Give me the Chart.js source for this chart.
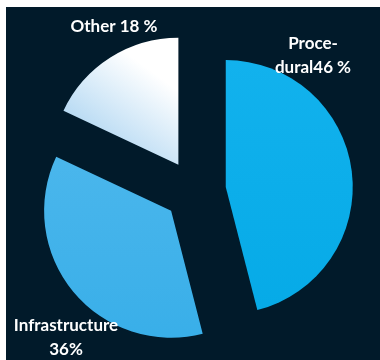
<!DOCTYPE html>
<html>
<head>
<meta charset="utf-8">
<script src="https://cdn.jsdelivr.net/npm/chart.js@4"></script>
<style>
  html, body { margin: 0; padding: 0; background: #ffffff; }
  #wrap { position: absolute; left: 6px; top: 7px; width: 374px; height: 353px; background: #011a2a; }
</style>
</head>
<body>
<div id="wrap"><canvas id="pie"></canvas></div>
<script>
const categories = ['Procedural', 'Infrastructure', 'Other'];
const shares = [46, 36, 18];
const labelLines = [['Proce-', 'dural46 %'], ['Infrastructure', '36%'], ['Other 18 %']];

// gradient colours per slice (start, end)
const sliceColors = [
    ['#14b3ee', '#04a9e6'],
    ['#55bbee', '#35ade8'],
    ['#ffffff', '#98caee']
];

function sliceFill(context) {
    const chart = context.chart;
    const area = chart.chartArea;
    const c = sliceColors[context.dataIndex];
    if (!area) return c[1];
    let g;
    if (context.dataIndex === 2) {
        g = chart.ctx.createLinearGradient(area.left + area.width * 0.45, area.top, area.left + area.width * 0.15, area.top + area.height * 0.45);
        g.addColorStop(0, c[0]);
        g.addColorStop(0.35, c[0]);
        g.addColorStop(1, c[1]);
    } else {
        g = chart.ctx.createLinearGradient(0, area.top, 0, area.bottom);
        g.addColorStop(0, c[0]);
        g.addColorStop(1, c[1]);
    }
    return g;
}

// Chart.js grows an offset arc's radius and trims its angle a bit;
// undo both so every slice keeps the same radius and exact edges
const evenArcs = {
    id: 'evenArcs',
    afterDatasetsUpdate(chart) {
        chart.getDatasetMeta(0).data.forEach(arc => {
            const t = (arc.options.offset || 0) / 4;
            const fix = 1 - Math.sin(Math.min(Math.PI, arc.circumference));
            const grow = t * fix;
            const r = arc.outerRadius;
            arc.outerRadius = r - grow;
            const trim = grow / (Math.PI * r) / 2;
            arc.startAngle -= trim;
            arc.endAngle += trim;
        });
    }
};

const pieLabels = {
    id: 'pieLabels',
    afterDraw(chart, args, opts) {
        const ctx = chart.ctx;
        ctx.save();
        ctx.fillStyle = '#ffffff';
        ctx.font = 'bold 17px Lato';
        ctx.textAlign = 'center';
        ctx.textBaseline = 'alphabetic';
        opts.spots.forEach((p, i) => {
            labelLines[i].forEach((line, j) => {
                ctx.fillText(line, p[0], p[1] + j * 23.5);
            });
        });
        ctx.restore();
    }
};

let pie = new Chart(document.getElementById("pie"), {
    type: 'pie',
    data: {
        labels: categories,
        datasets: [{
            data: shares,
            backgroundColor: sliceFill,
            borderWidth: 0,
            offset: 124
        }]
    },
    options: {
        responsive: true,
        maintainAspectRatio: false,
        animation: false,
        radius: 127,
        layout: {
            padding: { left: 4, top: 15 }
        },
        plugins: {
            legend: { display: false },
            tooltip: { enabled: false },
            pieLabels: {
                spots: [[307, 42], [60, 324], [108, 25]]
            }
        }
    },
    plugins: [evenArcs, pieLabels]
});
</script>
</body>
</html>
